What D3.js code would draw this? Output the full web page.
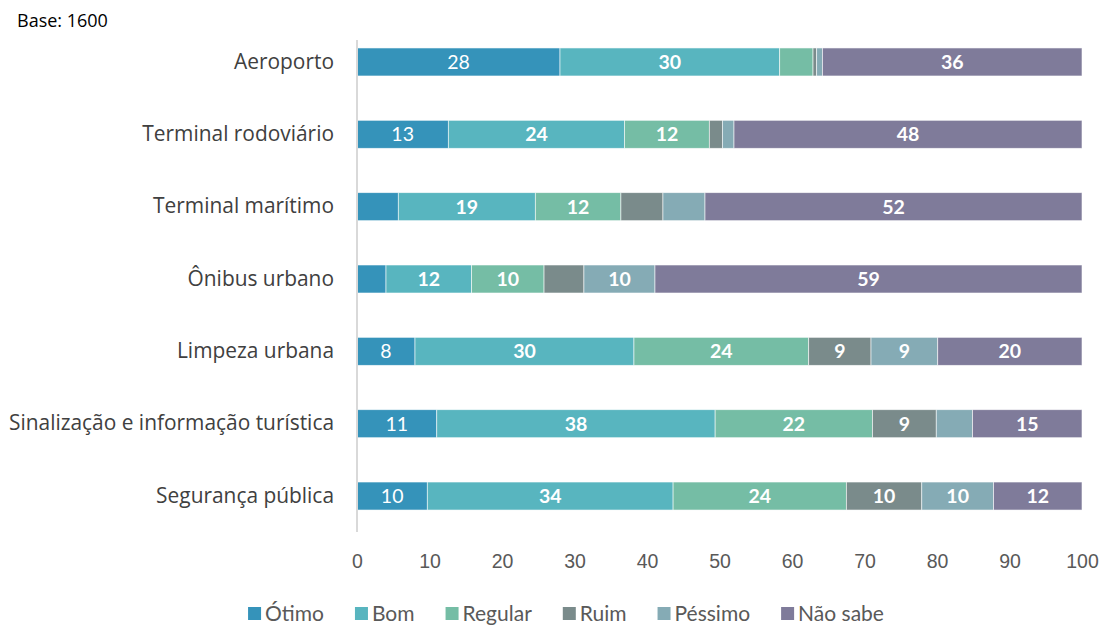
<!DOCTYPE html>
<html><head><meta charset="utf-8">
<script src="https://cdn.jsdelivr.net/npm/d3@7"></script>
<style>body{margin:0;background:#fff;} svg{display:block;font-family:Lato,"Open Sans",sans-serif;}</style>
</head><body>
<svg id="c" width="1104" height="625"></svg>
<script>
const categories = ["Aeroporto","Terminal rodoviário","Terminal marítimo","Ônibus urbano","Limpeza urbana","Sinalização e informação turística","Segurança pública"];
const seriesNames = ["Ótimo","Bom","Regular","Ruim","Péssimo","Não sabe"];
const otimo   = [28.0, 12.6, 5.7, 4.0, 8.0, 11.0, 9.7];
const bom     = [30.3, 24.3, 18.9, 11.8, 30.2, 38.4, 33.9];
const regular = [4.6, 11.7, 11.8, 10.0, 24.1, 21.7, 23.9];
const ruim    = [0.5, 1.8, 5.8, 5.5, 8.6, 8.8, 10.4];
const pessimo = [0.8, 1.6, 5.8, 9.8, 9.2, 5.0, 9.9];
const naoSabe = [35.8, 48.0, 52.0, 58.9, 19.9, 15.1, 12.2];
const xTicks = [0,10,20,30,40,50,60,70,80,90,100];
const colors = ["#3593BA","#58B5BF","#75BDA5","#7A8B8B","#85ABB5","#7F7B9A"];
const baseNote = "Base: 1600";

const seriesVals = [otimo,bom,regular,ruim,pessimo,naoSabe];
const rows = categories.map((c,i)=>{const r={cat:c}; seriesNames.forEach((s,j)=>r[s]=seriesVals[j][i]); return r;});
const stack = d3.stack().keys(seriesNames)(rows);

const svg = d3.select("#c");
const x = d3.scaleLinear().domain([0,100]).range([357,1082]);
const y = d3.scaleBand().domain(categories).range([25.8,532.2]).paddingInner(0.613).paddingOuter(0.3065);

svg.append("text").attr("x",17).attr("y",27).attr("font-size",18).attr("fill","#000")
  .style("font-family","'Open Sans',sans-serif").text(baseNote);

// bars
stack.forEach((layer,j)=>{
  const g = svg.append("g");
  g.selectAll("rect").data(layer).join("rect")
    .attr("x",d=>x(d[0])).attr("width",d=>x(d[1])-x(d[0]))
    .attr("y",d=>y(d.data.cat)).attr("height",y.bandwidth())
    .attr("fill",colors[j]).attr("stroke","#fff").attr("stroke-width",0.8).attr("stroke-opacity",0.7);
  g.selectAll("text").data(layer.filter(d=>d[1]-d[0]>=7)).join("text")
    .attr("x",d=>(x(d[0])+x(d[1]))/2).attr("y",d=>y(d.data.cat)+y.bandwidth()/2)
    .attr("dy","0.36em").attr("text-anchor","middle").attr("fill","#fff")
    .attr("font-size",19.5).attr("font-weight", j===0?400:700)
    .text(d=>Math.round(d[1]-d[0]));
});

// vertical axis line
svg.append("line").attr("x1",x(0)).attr("x2",x(0)).attr("y1",40).attr("y2",532)
  .attr("stroke","#d9d9d9").attr("stroke-width",2);

// category labels
const yAxis = svg.append("g").attr("transform",`translate(${x(0)},0)`)
  .call(d3.axisLeft(y).tickSize(0).tickPadding(23));
yAxis.select(".domain").remove();
yAxis.selectAll("text").attr("fill","#404040").style("font-family","'Open Sans',sans-serif").attr("font-size",20.9);

// x tick labels
const xAxis = svg.append("g").attr("transform","translate(0,548)")
  .call(d3.axisBottom(x).tickValues(xTicks).tickSize(0).tickPadding(0));
xAxis.select(".domain").remove();
xAxis.selectAll("text").attr("font-size",19.5).attr("fill","#595959").attr("dy","1em");

// legend
const leg = svg.append("g");
let cx = 0;
const gap = 31;
seriesNames.forEach((s,j)=>{
  const it = leg.append("g");
  it.append("rect").attr("x",0).attr("y",-6).attr("width",13).attr("height",13).attr("fill",colors[j]);
  const t = it.append("text").attr("x",17).attr("dy","0.36em").attr("font-size",21).attr("fill","#595959").text(s);
  const w = 17 + t.node().getComputedTextLength();
  it.attr("transform",`translate(${cx},0)`);
  cx += w + gap;
});
const total = cx - gap;
leg.attr("transform",`translate(${566 - total/2},613)`);
</script>
</body></html>
